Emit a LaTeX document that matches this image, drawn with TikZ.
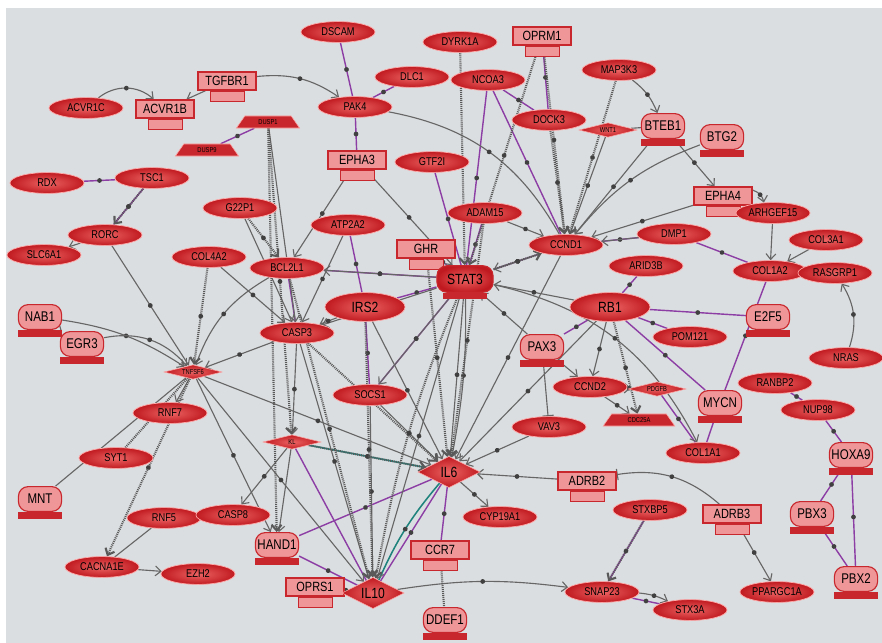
\documentclass[tikz,border=0pt]{standalone}
\usepackage{fontspec}
\setmainfont[FakeStretch=0.82]{Liberation Sans}
\usetikzlibrary{shapes.geometric,arrows.meta,decorations.markings}
\definecolor{bgc}{RGB}{219,222,224}
\definecolor{ellin}{RGB}{236,100,100}
\definecolor{ellout}{RGB}{192,26,32}
\definecolor{pinkc}{RGB}{238,150,152}
\definecolor{rimc}{RGB}{200,40,45}
\definecolor{bindc}{RGB}{140,62,165}
\definecolor{tealc}{RGB}{30,130,125}
\pgfdeclarelayer{back}
\pgfdeclarelayer{wires}
\pgfsetlayers{back,wires,main}
\begin{document}
\begin{tikzpicture}[x=0.025cm,y=-0.025cm]
        \tikzstyle{ell}=[ellipse,shade,inner color=ellin,outer color=ellout,draw=red!35!white,line width=0.5pt,minimum width=1.85cm,minimum height=0.52cm,inner sep=0pt,font=\fontsize{8}{9}\selectfont]
        \tikzstyle{ellbig}=[ell,minimum width=2cm,minimum height=0.72cm,font=\fontsize{10.5}{11}\selectfont]
        \tikzstyle{crescent}=[ell]
        \tikzstyle{lens}=[diamond,aspect=3.2,shade,inner color=ellin,outer color=ellout,draw=red!35!white,inner sep=0pt,minimum width=1.45cm,minimum height=0.36cm,font=\fontsize{5}{6}\selectfont]
        \tikzstyle{diam}=[diamond,aspect=2,shade,inner color=ellin,outer color=ellout,draw=red!35!white,inner sep=0pt,minimum width=1.55cm,minimum height=0.78cm,font=\fontsize{10.5}{11}\selectfont]
        \tikzstyle{trap}=[trapezium,trapezium left angle=55,trapezium right angle=55,fill=rimc,draw=red!35!white,inner sep=0pt,minimum width=1.45cm,minimum height=0.3cm,font=\fontsize{5}{6}\selectfont]
        \tikzstyle{recfoot}=[rectangle,fill=pinkc,draw=rimc,line width=0.4pt,minimum width=0.85cm,minimum height=0.25cm,inner sep=0pt]
        \tikzstyle{recep}=[rectangle,fill=pinkc,draw=rimc,line width=1pt,minimum width=1.45cm,minimum height=0.45cm,inner sep=0pt,font=\fontsize{9.5}{10}\selectfont,label distance=-0.6pt,label={[recfoot]below:{}}]
        \tikzstyle{tffoot}=[rectangle,fill=rimc,minimum width=1.12cm,minimum height=0.16cm,inner sep=0pt]
        \tikzstyle{tf}=[rectangle,rounded corners=7pt,fill=pinkc,draw=rimc,line width=0.8pt,minimum width=1.08cm,minimum height=0.62cm,inner sep=0pt,font=\fontsize{10}{11}\selectfont,label distance=-0.8pt,label={[tffoot]below:{}}]
        \tikzstyle{tfred}=[tf,shade,inner color=ellin,outer color=ellout,minimum width=1.4cm,minimum height=0.66cm,font=\fontsize{10.5}{11}\selectfont]
        \tikzstyle{link}=[draw=black!60,line width=0.8pt]
        \tikzstyle{hatch}=[draw=black!65,line width=1.5pt,dash pattern=on 0.7pt off 0.7pt]
        \tikzstyle{bind}=[draw=bindc,line width=1pt]
        \tikzstyle{tealbind}=[draw=tealc,line width=1.1pt]
        \tikzstyle{knob}=[postaction={decorate},decoration={markings,mark=at position 0.5 with {\fill[black!75] (0,0) circle (1.7pt);}}]
        \tikzstyle{hit}=[-{Straight Barb[length=4pt,width=7pt]}]
        \tikzstyle{block}=[-{Bar[width=8pt]}]
        \useasboundingbox (0,0) rectangle (882,643);
        \begin{pgfonlayer}{back}
          \fill[white] (0,0) rectangle (882,643);
          \fill[bgc] (6,8) rectangle (882,643);
        \end{pgfonlayer}
        % genes
        \node[ell] (dscam) at (338,32) {DSCAM};
        \node[crescent] (dyrk1a) at (460,42) {DYRK1A};
        \node[recep] (oprm1) at (542,36) {OPRM1};
        \node[crescent] (map3k3) at (619,70) {MAP3K3};
        \node[recep] (tgfbr1) at (227,81) {TGFBR1};
        \node[crescent] (acvr1c) at (86,108) {ACVR1C};
        \node[recep] (acvr1b) at (165,109) {ACVR1B};
        \node[ell] (dlc1) at (412,77) {DLC1};
        \node[ell] (ncoa3) at (488,80) {NCOA3};
        \node[crescent] (pak4) at (355,107) {PAK4};
        \node[ell] (dock3) at (549,120) {DOCK3};
        \node[lens] (wnt1) at (608,130) {WNT1};
        \node[tf] (bteb1) at (663,126) {BTEB1};
        \node[tf] (btg2) at (722,137) {BTG2};
        \node[trap] (dusp1) at (268,122) {DUSP1};
        \node[trap] (dusp9) at (207,150) {DUSP9};
        \node[recep] (epha3) at (357,160) {EPHA3};
        \node[ell] (gtf2i) at (432,162) {GTF2I};
        \node[ell] (rdx) at (47,183) {RDX};
        \node[ell] (tsc1) at (152,178) {TSC1};
        \node[recep] (epha4) at (723,196) {EPHA4};
        \node[ell] (arhgef15) at (773,213) {ARHGEF15};
        \node[ell] (g22p1) at (240,208) {G22P1};
        \node[ell] (atp2a2) at (348,225) {ATP2A2};
        \node[ell] (adam15) at (485,213) {ADAM15};
        \node[ell] (ccnd1) at (566,245) {CCND1};
        \node[ell] (dmp1) at (674,234) {DMP1};
        \node[ell] (col3a1) at (826,240) {COL3A1};
        \node[ell] (rorc) at (105,235) {RORC};
        \node[ell] (slc6a1) at (44,255) {SLC6A1};
        \node[ell] (col4a2) at (209,257) {COL4A2};
        \node[ell] (bcl2l1) at (287,268) {BCL2L1};
        \node[recep] (ghr) at (426,249) {GHR};
        \node[tfred] (stat3) at (465,279) {STAT3};
        \node[ell] (arid3b) at (646,266) {ARID3B};
        \node[ell] (col1a2) at (770,271) {COL1A2};
        \node[ell] (rasgrp1) at (835,273) {RASGRP1};
        \node[ellbig] (irs2) at (365,307) {IRS2};
        \node[ellbig] (rb1) at (610,307) {RB1};
        \node[tf] (e2f5) at (768,317) {E2F5};
        \node[tf] (nab1) at (40,317) {NAB1};
        \node[tf] (egr3) at (82,344) {EGR3};
        \node[ell] (casp3) at (297,333) {CASP3};
        \node[ell] (pom121) at (690,337) {POM121};
        \node[tf] (pax3) at (542,347) {PAX3};
        \node[ell] (nras) at (846,358) {NRAS};
        \node[lens] (tnfsf6) at (193,372) {TNFSF6};
        \node[ell] (socs1) at (370,395) {SOCS1};
        \node[ell] (ccnd2) at (590,387) {CCND2};
        \node[lens] (pdgfb) at (657,389) {PDGFB};
        \node[ell] (rnf7) at (170,413) {RNF7};
        \node[tf] (mycn) at (720,403) {MYCN};
        \node[ell] (ranbp2) at (775,383) {RANBP2};
        \node[ell] (nup98) at (818,410) {NUP98};
        \node[trap] (cdc25a) at (639,420) {CDC25A};
        \node[ell] (vav3) at (549,427) {VAV3};
        \node[lens] (kl) at (292,442) {KL};
        \node[ell] (col1a1) at (703,453) {COL1A1};
        \node[tf] (hoxa9) at (851,455) {HOXA9};
        \node[ell] (syt1) at (116,458) {SYT1};
        \node[diam] (il6) at (449,472) {IL6};
        \node[recep] (adrb2) at (587,481) {ADRB2};
        \node[ell] (cyp19a1) at (500,517) {CYP19A1};
        \node[ell] (stxbp5) at (650,510) {STXBP5};
        \node[recep] (adrb3) at (732,514) {ADRB3};
        \node[tf] (pbx3) at (812,514) {PBX3};
        \node[tf] (mnt) at (40,499) {MNT};
        \node[ell] (rnf5) at (164,518) {RNF5};
        \node[ell] (casp8) at (233,515) {CASP8};
        \node[tf] (hand1) at (277,545) {HAND1};
        \node[recep] (ccr7) at (440,550) {CCR7};
        \node[ell] (snap23) at (602,592) {SNAP23};
        \node[ell] (stx3a) at (690,610) {STX3A};
        \node[ell] (ppargc1a) at (777,592) {PPARGC1A};
        \node[tf] (pbx2) at (856,579) {PBX2};
        \node[ell] (cacna1e) at (102,567) {CACNA1E};
        \node[ell] (ezh2) at (198,574) {EZH2};
        \node[recep] (oprs1) at (315,587) {OPRS1};
        \node[diam] (il10) at (373,593) {IL10};
        \node[tf] (ddef1) at (445,620) {DDEF1};
        \begin{pgfonlayer}{wires}
        % binding (purple)
        \path (dscam) edge[bind,knob] (pak4);
        \path (dlc1) edge[bind,knob] (pak4);
        \path (pak4) edge[bind,knob] (epha3);
        \path (ncoa3) edge[bind,knob] (dock3);
        \path (ncoa3) edge[bind,knob] (stat3);
        \path (ncoa3) edge[bind,knob] (ccnd1);
        \path (oprm1) edge[bind,knob] (dock3);
        \path (gtf2i) edge[bind,knob] (stat3);
        \path (dusp1) edge[bind,knob] (dusp9);
        \path (rdx) edge[bind,knob] (tsc1);
        \path (tsc1) edge[bind,knob] (rorc);
        \path (atp2a2) edge[bind,knob] (irs2);
        \path (ghr) edge[bind,knob] (stat3);
        \path (bcl2l1) edge[bind,knob] (stat3);
        \path (irs2) edge[bind,knob] (stat3);
        \path (socs1) edge[bind,knob] (irs2);
        \path (socs1) edge[bind,knob] (stat3);
        \path (adam15) edge[bind,knob] (stat3);
        \path (ccnd1) edge[bind,knob] (stat3);
        \path (ccnd1) edge[bind,knob] (dmp1);
        \path (dmp1) edge[bind,knob] (col1a2);
        \path (arid3b) edge[bind,knob] (rb1);
        \path (rb1) edge[bind,knob] (e2f5);
        \path (rb1) edge[bind,knob] (pom121);
        \path (rb1) edge[bind,knob] (mycn);
        \path (rb1) edge[bind,knob] (pax3);
        \path (col1a2) edge[bind,knob] (mycn);
        \path (mycn) edge[bind] (col1a1);
        \path (pdgfb) edge[bind,knob] (col1a1);
        \path (hoxa9) edge[bind,knob] (pbx3);
        \path (hoxa9) edge[bind,knob] (pbx2);
        \path (pbx3) edge[bind,knob] (pbx2);
        \path (ranbp2) edge[bind,knob] (nup98);
        \path (nup98) edge[bind,knob] (hoxa9);
        \path (stxbp5) edge[bind] (snap23);
        \path (snap23) edge[bind,knob] (stx3a);
        \path (hand1) edge[bind,knob] (il6);
        \path (hand1) edge[bind,knob] (il10);
        \path (kl) edge[bind] (il10);
        \path (il10) edge[bind,knob] (il6);
        \path (ccr7) edge[bind,knob] (il6);
        \path (bcl2l1) edge[bind] (casp3);
        \path (kl) edge[tealbind,knob] (il6);
        \path (il10) edge[tealbind,knob,bend left=8] (il6);
        % regulation (grey)
        \path (acvr1c) edge[link,knob,hit,bend left=40] (acvr1b);
        \path (tgfbr1) edge[link,hit] (acvr1b);
        \path (tgfbr1) edge[link,knob,hit,bend left=20] (pak4);
        \path (pak4) edge[link,knob,bend left=25] (ccnd1);
        \path (epha3) edge[link,knob,hit] (stat3);
        \path (epha3) edge[link,knob,hit] (bcl2l1);
        \path (dusp1) edge[link,hit] (casp3);
        \path (rorc) edge[link,hit] (slc6a1);
        \path (rorc) edge[link,knob,hit] (tnfsf6);
        \path (nab1) edge[link,hit] (egr3);
        \path (nab1) edge[link,knob,hit,bend left=12] (tnfsf6);
        \path (egr3) edge[link,knob,hit,bend left=30] (tnfsf6);
        \path (tnfsf6) edge[link,hit] (rnf7);
        \path (bcl2l1) edge[link,knob,hit,bend right=20] (tnfsf6);
        \path (casp3) edge[link,knob,hit] (tnfsf6);
        \path (mnt) edge[link] (tnfsf6);
        \path (rnf5) edge[link] (cacna1e);
        \path (cacna1e) edge[link,hit] (ezh2);
        \path (map3k3) edge[link,knob,hit,bend left=15] (bteb1);
        \path (bteb1) edge[link,knob,hit] (epha4);
        \path (bteb1) edge[link] (wnt1);
        \path (btg2) edge[link,knob,hit,bend right=15] (ccnd1);
        \path (bteb1) edge[link,knob,hit] (ccnd1);
        \path (wnt1) edge[link,knob,hit] (ccnd1);
        \path (epha4) edge[link,knob,hit] (ccnd1);
        \path (epha4) edge[link,knob,hit,bend left=30] (arhgef15);
        \path (arhgef15) edge[link,hit] (col1a2);
        \path (col3a1) edge[link,hit] (col1a2);
        \path (nras) edge[link,knob,hit,bend right=25] (rasgrp1);
        \path (adam15) edge[link,knob,hit] (ccnd1);
        \path (dmp1) edge[link,hit] (ccnd1);
        \path (ccnd1) edge[link,knob,hit] (stat3);
        \path (rb1) edge[link,knob,hit] (stat3);
        \path (pax3) edge[link,knob,hit] (stat3);
        \path (stat3) edge[link,knob,hit] (il6);
        \path (stat3) edge[link,knob,hit,bend left=6] (il6);
        \path (stat3) edge[link,knob,hit] (il10);
        \path (stat3) edge[link,knob,hit] (socs1);
        \path (stat3) edge[link,knob,hit] (bcl2l1);
        \path (stat3) edge[link,knob,hit] (casp3);
        \path (stat3) edge[link,knob,hit,bend left=25] (col1a1);
        \path (rb1) edge[link,knob,hit] (ccnd2);
        \path (pax3) edge[link,hit] (ccnd2);
        \path (pax3) edge[link,block] (vav3);
        \path (ccnd2) edge[link,knob,hit] (pdgfb);
        \path (ccnd2) edge[link,knob,hit] (cdc25a);
        \path (rb1) edge[link,knob,hit] (il6);
        \path (ccnd1) edge[link,knob,hit] (il6);
        \path (vav3) edge[link,knob,hit] (il6);
        \path (adrb2) edge[link,knob,hit] (il6);
        \path (adrb3) edge[link,knob,block,bend right=25] (adrb2);
        \path (adrb3) edge[link,knob,hit] (ppargc1a);
        \path (il10) edge[link,knob,hit,bend left=8] (snap23);
        \path (il6) edge[link,knob,hit] (cyp19a1);
        \path (oprs1) edge[link,knob,hit] (il10);
        \path (kl) edge[link,knob,hit] (casp8);
        \path (tnfsf6) edge[link,knob,hit] (hand1);
        \path (kl) edge[link,hit] (hand1);
        \path (tnfsf6) edge[link,knob,hit] (il6);
        \path (tnfsf6) edge[link,knob,hit] (il10);
        \path (casp3) edge[link,knob,hit] (il10);
        \path (irs2) edge[link,knob,hit] (il6);
        \path (socs1) edge[link,knob,hit] (il6);
        \path (socs1) edge[link,knob,hit] (il10);
        \path (casp3) edge[link,knob,hit] (kl);
        \path (g22p1) edge[link,knob,hit] (casp3);
        \path (atp2a2) edge[link,knob,hit] (casp3);
        \path (col4a2) edge[link,knob,hit] (casp3);
        \path (irs2) edge[link,knob,hit] (casp3);
        \path (snap23) edge[link,knob,hit,bend left=10] (stx3a);
        % regulation (hatched)
        \path (dyrk1a) edge[hatch,knob,hit] (stat3);
        \path (oprm1) edge[hatch,knob,hit] (ccnd1);
        \path (oprm1) edge[hatch,knob,hit] (stat3);
        \path (dock3) edge[hatch,knob,hit] (ccnd1);
        \path (map3k3) edge[hatch,knob,hit] (ccnd1);
        \path (tsc1) edge[hatch,knob,hit] (rorc);
        \path (col4a2) edge[hatch,knob,hit] (tnfsf6);
        \path (dusp1) edge[hatch,knob,hit] (kl);
        \path (dusp1) edge[hatch,knob,hit] (hand1);
        \path (tnfsf6) edge[hatch,knob,hit] (cacna1e);
        \path (syt1) edge[hatch] (tnfsf6);
        \path (rb1) edge[hatch,knob,hit] (cdc25a);
        \path (ccr7) edge[hatch] (ddef1);
        \path (bcl2l1) edge[hatch,knob,hit] (il10);
        \path (casp3) edge[hatch,knob,hit] (il6);
        \path (kl) edge[hatch,knob,hit] (il6);
        \path (irs2) edge[hatch,knob,hit] (il10);
        \path (stat3) edge[hatch,knob,hit,bend right=6] (il10);
        \path (adam15) edge[hatch,knob,hit] (il6);
        \path (ghr) edge[hatch,knob,hit] (il6);
        \path (stat3) edge[hatch,knob,hit] (ccnd1);
        \path (stxbp5) edge[hatch,knob,hit] (snap23);
        \path (g22p1) edge[hatch,knob,hit] (bcl2l1);
        \end{pgfonlayer}
      \end{tikzpicture}
\end{document}
